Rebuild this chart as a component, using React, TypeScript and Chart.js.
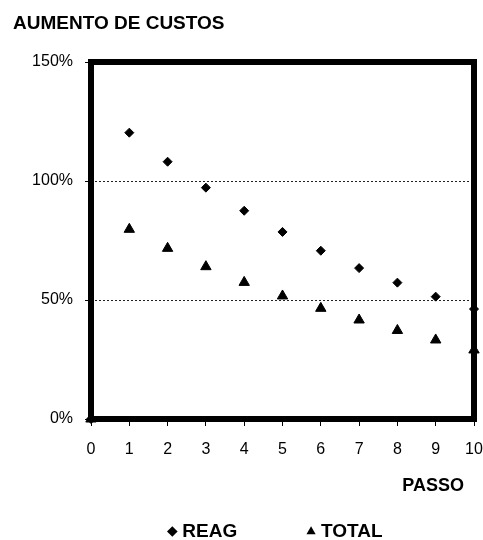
import React, { useEffect, useRef } from "react";
import { Chart, registerables } from "chart.js";

Chart.register(...registerables);

const chartTitle = "AUMENTO DE CUSTOS";
const xAxisTitle = "PASSO";
const steps = [0, 1, 2, 3, 4, 5, 6, 7, 8, 9, 10];
const reag = [0, 120.3, 108.1, 97.2, 87.5, 78.6, 70.7, 63.4, 57.3, 51.4, 46.2];
const total = [0, 79.7, 71.7, 64, 57.4, 51.7, 46.5, 41.6, 37.2, 33.2, 29];
const seriesNames = ["REAG", "TOTAL"];
const yTickValues = [0, 50, 100, 150];
const dashedLevels = [50, 100];

const FONT = "'Liberation Sans', Arial, sans-serif";

const framePlugin = {
  id: "frame",
  afterDatasetsDraw(chart: any) {
    const { ctx, chartArea } = chart;
    const { left, top, right, bottom } = chartArea;
    ctx.save();
    ctx.lineWidth = 6;
    ctx.strokeStyle = "#000";
    ctx.strokeRect(left, top, right - left, bottom - top);
    ctx.restore();
  },
};

export default function App() {
  const ref = useRef<HTMLCanvasElement | null>(null);

  useEffect(() => {
    if (!ref.current) return;
    const chart = new Chart(ref.current, {
      type: "scatter",
      data: {
        datasets: [
          {
            label: seriesNames[0],
            data: steps.map((s, i) => ({ x: s, y: reag[i] })),
            pointStyle: "rectRot",
            pointRadius: 4.5,
            pointBorderWidth: 1,
            backgroundColor: "#000",
            borderColor: "#000",
            showLine: false,
            clip: false,
          },
          {
            label: seriesNames[1],
            data: steps.map((s, i) => ({ x: s, y: total[i] })),
            pointStyle: "triangle",
            pointRadius: 6,
            pointBorderWidth: 1,
            backgroundColor: "#000",
            borderColor: "#000",
            showLine: false,
            clip: false,
          },
        ],
      },
      options: {
        responsive: false,
        animation: false,
        devicePixelRatio: 1,
        layout: { padding: { left: 13, right: 0, top: 0, bottom: 0 } },
        plugins: {
          title: {
            display: true,
            text: chartTitle,
            align: "start",
            color: "#000",
            font: { family: FONT, size: 19, weight: "bold" },
            padding: { top: 12.5, bottom: 26.7 },
          },
          legend: {
            display: true,
            position: "bottom",
            fullSize: false,
            maxHeight: 28,
            labels: {
              usePointStyle: true,
              boxWidth: 1,
              boxHeight: 7.5,
              padding: 10,
              color: "#000",
              font: { family: FONT, size: 19, weight: "bold" },
              generateLabels(chart: any) {
                const items = Chart.defaults.plugins.legend.labels.generateLabels(chart);
                return items.map((it: any, i: number) => ({
                  ...it,
                  text: i === 0 ? it.text + "            " : it.text + "  ",
                  lineWidth: 0,
                  fillStyle: "#000",
                }));
              },
            },
          },
          tooltip: { enabled: false },
        },
        scales: {
          x: {
            type: "linear",
            min: 0,
            max: 10,
            afterFit(scale: any) {
              scale.height = 93;
              scale.paddingRight = 9;
              scale.paddingLeft = 0;
            },
            afterBuildTicks(scale: any) {
              scale.ticks = steps.map((v) => ({ value: v }));
            },
            ticks: {
              color: "#000",
              font: { family: FONT, size: 16 },
              padding: 14,
              maxRotation: 0,
            },
            grid: {
              drawOnChartArea: false,
              drawTicks: true,
              tickLength: 7,
              tickColor: "#000",
              tickBorderDash: [],
            },
            border: { display: false },
            title: {
              display: true,
              text: xAxisTitle + "  ",
              align: "end",
              color: "#000",
              font: { family: FONT, size: 18, weight: "bold" },
              padding: { top: 0, bottom: 15 },
            },
          },
          y: {
            min: 0,
            max: 150,
            afterFit(scale: any) {
              scale.width = 78;
            },
            afterBuildTicks(scale: any) {
              scale.ticks = yTickValues.map((v) => ({ value: v }));
            },
            ticks: {
              color: "#000",
              font: { family: FONT, size: 16 },
              padding: 12,
              callback: (v: any) => v + "%",
            },
            grid: {
              drawOnChartArea: true,
              drawTicks: true,
              tickLength: 6,
              lineWidth: 1,
              color: (c: any) =>
                c.tick && dashedLevels.includes(c.tick.value) ? "#222" : "rgba(0,0,0,0)",
              tickColor: "#000",
              tickBorderDash: [],
            },
            border: { display: false, dash: [2, 2] },
          },
        },
      },
      plugins: [framePlugin],
    } as any);
    return () => chart.destroy();
  }, []);

  return (
    <div style={{ position: "absolute", left: 0, top: 0, width: 483, height: 540, background: "#fff" }}>
      <canvas ref={ref} width={483} height={540} style={{ display: "block" }} />
    </div>
  );
}
